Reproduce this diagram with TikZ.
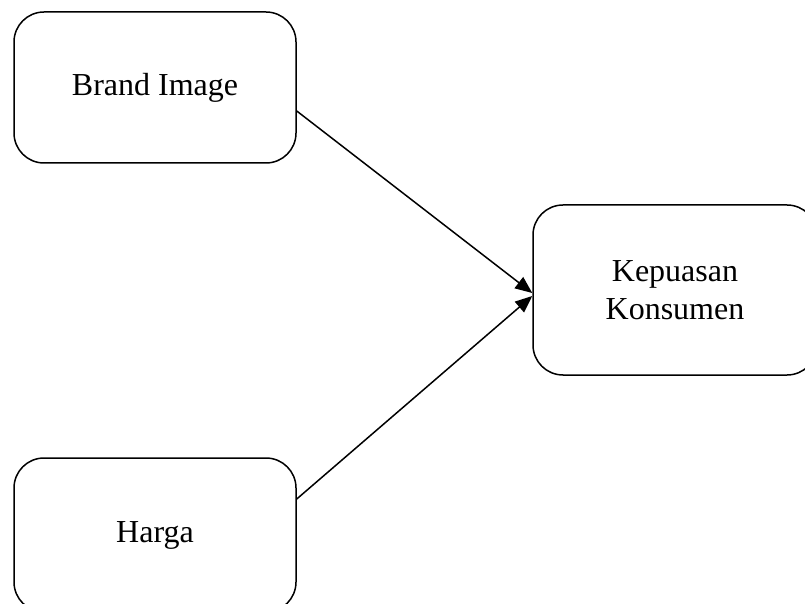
\documentclass[tikz,border=0pt]{standalone}
\usepackage{fontspec}
\setmainfont{Liberation Serif}
\usetikzlibrary{arrows.meta}
\begin{document}
\begin{tikzpicture}[x=1pt,y=1pt,
  box/.style={draw, line width=1.5pt, rounded corners=30pt, align=center,
    font=\fontsize{32}{38}\selectfont, inner sep=0pt},
  conn/.style={line width=1.5pt, -{Triangle[length=17pt,width=14pt]}}]
\useasboundingbox (0,0) rectangle (805,603);
\clip (0,0) rectangle (805,603);
\node[box, minimum width=282pt, minimum height=151pt] (brand) at (155,515.5) {Brand Image};
\node[box, minimum width=284pt, minimum height=170pt] (kep) at (675,313) {Kepuasan\\Konsumen};
\node[box, minimum width=282pt, minimum height=154pt] (harga) at (155,68) {Harga};
\draw[conn] ([yshift=-23.5pt]brand.east) -- ([yshift=-3pt]kep.west);
\draw[conn] ([yshift=36pt]harga.east) -- ([yshift=-6pt]kep.west);
\end{tikzpicture}
\end{document}
